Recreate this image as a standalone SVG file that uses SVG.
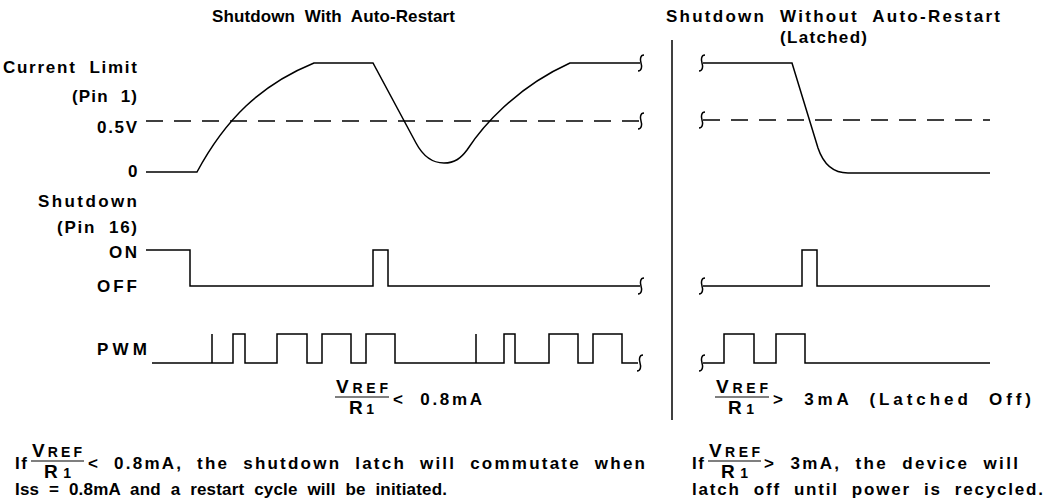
<svg xmlns="http://www.w3.org/2000/svg" xmlns:xlink="http://www.w3.org/1999/xlink" width="1050" height="503" viewBox="0 0 1050 503">
<style>
.t{font-family:"Liberation Sans",Arial,Helvetica,sans-serif;font-weight:bold;font-size:17px;fill:#000;white-space:pre}
.s{font-size:14px}
.v{font-size:19px}
.w{fill:none;stroke:#000;stroke-width:1.5;stroke-linejoin:miter}
.d{stroke-dasharray:17 11}
.fl{stroke:#000;stroke-width:1.2}
</style>
<defs>
<path id="sq" class="w" d="M3,-8 C-1,-8 -1,-3 0,0 C1,3 1,8 -3,8"/>
</defs>
<rect width="1050" height="503" fill="#fff"/>

<g id="titles">
<text class="t" x="212" y="22" textLength="243" lengthAdjust="spacing">Shutdown  With  Auto-Restart</text>
<text class="t" x="666" y="22" textLength="334" lengthAdjust="spacing">Shutdown  Without  Auto-Restart</text>
<text class="t" x="780" y="43" textLength="87" lengthAdjust="spacing">(Latched)</text>
</g>

<g id="labels">
<text class="t" x="3" y="73" textLength="134" lengthAdjust="spacing">Current  Limit</text>
<text class="t" x="72" y="102" textLength="65" lengthAdjust="spacing">(Pin  1)</text>
<text class="t" x="97" y="133" textLength="40" lengthAdjust="spacing">0.5V</text>
<text class="t" x="128" y="177">0</text>
<text class="t" x="38" y="207" textLength="99" lengthAdjust="spacing">Shutdown</text>
<text class="t" x="57" y="233" textLength="80" lengthAdjust="spacing">(Pin  16)</text>
<text class="t" x="109" y="258" textLength="28" lengthAdjust="spacing">ON</text>
<text class="t" x="97" y="292" textLength="40" lengthAdjust="spacing">OFF</text>
<text class="t" x="97" y="355" textLength="50" lengthAdjust="spacing">PWM</text>
</g>

<g id="divider">
<path class="w" d="M672,40 V420"/>
</g>

<g id="waveforms">
<path class="w d" d="M146,121 H640"/>
<path class="w d" d="M703,120 H990"/>
<path class="w" d="M146,172 H197 C225,120 260,85 314,63 H373 L416,143 C424,158 434,163 444,163 C455,163 461,158 467,150 C482,127 515,88 570,63 H640"/>
<path class="w" d="M703,63 H792 L818,148 C824,166 835,173 848,173 H990"/>
<path class="w" d="M146,250 H190 V286 H373 V250 H388 V286 H640"/>
<path class="w" d="M703,286 H802 V250 H817 V286 H990"/>
<path class="w" d="M152,363 H212 V334 V363 H233 V334 H245 V363 H277 V334 H307 V363 H322 V334 H351 V363 H366 V334 H395 V363 H476 V334 V363 H504 V334 H515 V363 H549 V334 H578 V363 H593 V334 H622 V363 H638"/>
<path class="w" d="M703,363 H724 V334 H754 V363 H776 V334 H805 V363 H990"/>
<use xlink:href="#sq" href="#sq" x="641" y="63"/>
<use xlink:href="#sq" href="#sq" x="641" y="121"/>
<use xlink:href="#sq" href="#sq" x="641" y="286"/>
<use xlink:href="#sq" href="#sq" x="640" y="363"/>
<use xlink:href="#sq" href="#sq" x="702" y="63"/>
<use xlink:href="#sq" href="#sq" x="702" y="120"/>
<use xlink:href="#sq" href="#sq" x="702" y="286"/>
<use xlink:href="#sq" href="#sq" x="702" y="363"/>
</g>

<g id="formula-left">
<text class="t" x="336" y="393" textLength="52" lengthAdjust="spacing"><tspan class="v">V</tspan><tspan class="s">REF</tspan></text>
<path class="fl" d="M335,397 H389"/>
<text class="t" x="349" y="414" textLength="25" lengthAdjust="spacing"><tspan class="v">R</tspan><tspan class="s">1</tspan></text>
<text class="t" x="393" y="405" textLength="89" lengthAdjust="spacing">&lt;  0.8mA</text>
</g>

<g id="formula-right">
<text class="t" x="716" y="393" textLength="52" lengthAdjust="spacing"><tspan class="v">V</tspan><tspan class="s">REF</tspan></text>
<path class="fl" d="M715,397 H769"/>
<text class="t" x="728" y="414" textLength="26" lengthAdjust="spacing"><tspan class="v">R</tspan><tspan class="s">1</tspan></text>
<text class="t" x="773" y="405" textLength="258" lengthAdjust="spacing">&gt;  3mA  (Latched  Off)</text>
</g>

<g id="note-left">
<text class="t" x="15" y="469" textLength="12" lengthAdjust="spacing">If</text>
<text class="t" x="32" y="457" textLength="50" lengthAdjust="spacing"><tspan class="v">V</tspan><tspan class="s">REF</tspan></text>
<path class="fl" d="M31,461 H84"/>
<text class="t" x="44" y="478" textLength="27" lengthAdjust="spacing"><tspan class="v">R</tspan><tspan class="s">1</tspan></text>
<text class="t" x="88" y="469" textLength="557" lengthAdjust="spacing">&lt;  0.8mA,  the  shutdown  latch  will  commutate  when</text>
<text class="t" x="15" y="495" textLength="432" lengthAdjust="spacing">Iss  =  0.8mA  and  a  restart  cycle  will  be  initiated.</text>
</g>

<g id="note-right">
<text class="t" x="692" y="469" textLength="12" lengthAdjust="spacing">If</text>
<text class="t" x="709" y="457" textLength="51" lengthAdjust="spacing"><tspan class="v">V</tspan><tspan class="s">REF</tspan></text>
<path class="fl" d="M708,461 H761"/>
<text class="t" x="721" y="478" textLength="27" lengthAdjust="spacing"><tspan class="v">R</tspan><tspan class="s">1</tspan></text>
<text class="t" x="764" y="469" textLength="254" lengthAdjust="spacing">&gt;  3mA,  the  device  will</text>
<text class="t" x="692" y="495" textLength="351" lengthAdjust="spacing">latch  off  until  power  is  recycled.</text>
</g>
</svg>
